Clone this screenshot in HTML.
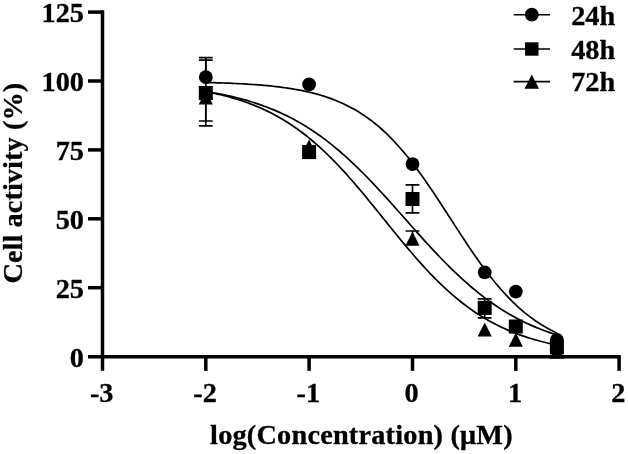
<!DOCTYPE html><html><head><meta charset="utf-8"><title>Cell activity</title><style>html,body{margin:0;padding:0;background:#fff}</style></head><body><svg width="628" height="454" viewBox="0 0 628 454" style="display:block">
<rect width="628" height="454" fill="#fff"/>
<g fill="none" stroke="#000" stroke-width="1.7">
<path d="M205.82,82.47 L208.75,82.54 L211.67,82.62 L214.60,82.71 L217.53,82.80 L220.46,82.89 L223.38,82.99 L226.31,83.10 L229.24,83.22 L232.17,83.34 L235.09,83.48 L238.02,83.62 L240.95,83.77 L243.88,83.93 L246.80,84.10 L249.73,84.29 L252.66,84.48 L255.59,84.69 L258.51,84.91 L261.44,85.15 L264.37,85.41 L267.30,85.68 L270.22,85.96 L273.15,86.27 L276.08,86.60 L279.00,86.95 L281.93,87.32 L284.86,87.72 L287.79,88.14 L290.71,88.59 L293.64,89.07 L296.57,89.58 L299.50,90.12 L302.42,90.70 L305.35,91.32 L308.28,91.97 L311.21,92.66 L314.13,93.40 L317.06,94.19 L319.99,95.02 L322.92,95.90 L325.84,96.84 L328.77,97.84 L331.70,98.89 L334.63,100.01 L337.55,101.19 L340.48,102.44 L343.41,103.76 L346.34,105.16 L349.26,106.64 L352.19,108.20 L355.12,109.85 L358.04,111.58 L360.97,113.41 L363.90,115.33 L366.83,117.35 L369.75,119.47 L372.68,121.69 L375.61,124.02 L378.54,126.46 L381.46,129.01 L384.39,131.67 L387.32,134.45 L390.25,137.34 L393.17,140.35 L396.10,143.47 L399.03,146.71 L401.96,150.07 L404.88,153.53 L407.81,157.11 L410.74,160.79 L413.67,164.58 L416.59,168.47 L419.52,172.45 L422.45,176.52 L425.38,180.68 L428.30,184.91 L431.23,189.22 L434.16,193.58 L437.08,198.00 L440.01,202.46 L442.94,206.95 L445.87,211.47 L448.79,216.01 L451.72,220.55 L454.65,225.09 L457.58,229.62 L460.50,234.12 L463.43,238.58 L466.36,243.00 L469.29,247.38 L472.21,251.69 L475.14,255.93 L478.07,260.10 L481.00,264.18 L483.92,268.18 L486.85,272.08 L489.78,275.88 L492.71,279.58 L495.63,283.17 L498.56,286.65 L501.49,290.02 L504.41,293.27 L507.34,296.41 L510.27,299.43 L513.20,302.34 L516.12,305.13 L519.05,307.81 L521.98,310.37 L524.91,312.83 L527.83,315.17 L530.76,317.41 L533.69,319.54 L536.62,321.58 L539.54,323.51 L542.47,325.35 L545.40,327.09 L548.33,328.75 L551.25,330.32 L554.18,331.81 L557.11,333.22"/>
<path d="M205.82,91.53 L208.75,92.00 L211.67,92.49 L214.60,93.01 L217.53,93.54 L220.46,94.11 L223.38,94.69 L226.31,95.31 L229.24,95.95 L232.17,96.62 L235.09,97.32 L238.02,98.05 L240.95,98.81 L243.88,99.60 L246.80,100.43 L249.73,101.30 L252.66,102.20 L255.59,103.13 L258.51,104.11 L261.44,105.13 L264.37,106.18 L267.30,107.29 L270.22,108.43 L273.15,109.62 L276.08,110.86 L279.00,112.14 L281.93,113.48 L284.86,114.86 L287.79,116.30 L290.71,117.79 L293.64,119.33 L296.57,120.93 L299.50,122.58 L302.42,124.29 L305.35,126.06 L308.28,127.89 L311.21,129.78 L314.13,131.72 L317.06,133.73 L319.99,135.80 L322.92,137.93 L325.84,140.12 L328.77,142.37 L331.70,144.69 L334.63,147.06 L337.55,149.50 L340.48,151.99 L343.41,154.55 L346.34,157.16 L349.26,159.83 L352.19,162.56 L355.12,165.34 L358.04,168.17 L360.97,171.06 L363.90,173.99 L366.83,176.97 L369.75,179.99 L372.68,183.06 L375.61,186.16 L378.54,189.30 L381.46,192.48 L384.39,195.68 L387.32,198.91 L390.25,202.16 L393.17,205.43 L396.10,208.71 L399.03,212.01 L401.96,215.31 L404.88,218.62 L407.81,221.93 L410.74,225.23 L413.67,228.53 L416.59,231.81 L419.52,235.08 L422.45,238.33 L425.38,241.56 L428.30,244.76 L431.23,247.93 L434.16,251.07 L437.08,254.18 L440.01,257.25 L442.94,260.27 L445.87,263.25 L448.79,266.18 L451.72,269.07 L454.65,271.90 L457.58,274.68 L460.50,277.41 L463.43,280.08 L466.36,282.70 L469.29,285.25 L472.21,287.75 L475.14,290.19 L478.07,292.56 L481.00,294.88 L483.92,297.13 L486.85,299.32 L489.78,301.45 L492.71,303.52 L495.63,305.53 L498.56,307.47 L501.49,309.36 L504.41,311.19 L507.34,312.96 L510.27,314.67 L513.20,316.32 L516.12,317.92 L519.05,319.47 L521.98,320.96 L524.91,322.39 L527.83,323.78 L530.76,325.11 L533.69,326.40 L536.62,327.64 L539.54,328.83 L542.47,329.97 L545.40,331.07 L548.33,332.13 L551.25,333.15 L554.18,334.13 L557.11,335.06"/>
<path d="M205.82,91.66 L208.75,92.22 L211.67,92.81 L214.60,93.42 L217.53,94.07 L220.46,94.75 L223.38,95.46 L226.31,96.21 L229.24,96.99 L232.17,97.81 L235.09,98.67 L238.02,99.56 L240.95,100.50 L243.88,101.49 L246.80,102.51 L249.73,103.59 L252.66,104.71 L255.59,105.89 L258.51,107.11 L261.44,108.39 L264.37,109.72 L267.30,111.11 L270.22,112.56 L273.15,114.07 L276.08,115.64 L279.00,117.28 L281.93,118.97 L284.86,120.74 L287.79,122.57 L290.71,124.47 L293.64,126.44 L296.57,128.48 L299.50,130.59 L302.42,132.78 L305.35,135.04 L308.28,137.37 L311.21,139.77 L314.13,142.25 L317.06,144.80 L319.99,147.43 L322.92,150.13 L325.84,152.90 L328.77,155.74 L331.70,158.64 L334.63,161.62 L337.55,164.66 L340.48,167.77 L343.41,170.94 L346.34,174.16 L349.26,177.45 L352.19,180.78 L355.12,184.16 L358.04,187.59 L360.97,191.06 L363.90,194.57 L366.83,198.10 L369.75,201.67 L372.68,205.26 L375.61,208.87 L378.54,212.49 L381.46,216.12 L384.39,219.76 L387.32,223.39 L390.25,227.02 L393.17,230.63 L396.10,234.23 L399.03,237.81 L401.96,241.36 L404.88,244.88 L407.81,248.37 L410.74,251.82 L413.67,255.22 L416.59,258.58 L419.52,261.89 L422.45,265.14 L425.38,268.34 L428.30,271.47 L431.23,274.55 L434.16,277.55 L437.08,280.50 L440.01,283.37 L442.94,286.17 L445.87,288.90 L448.79,291.56 L451.72,294.15 L454.65,296.66 L457.58,299.10 L460.50,301.47 L463.43,303.76 L466.36,305.98 L469.29,308.13 L472.21,310.20 L475.14,312.21 L478.07,314.14 L481.00,316.00 L483.92,317.80 L486.85,319.53 L489.78,321.19 L492.71,322.79 L495.63,324.33 L498.56,325.81 L501.49,327.23 L504.41,328.59 L507.34,329.89 L510.27,331.14 L513.20,332.34 L516.12,333.49 L519.05,334.59 L521.98,335.64 L524.91,336.64 L527.83,337.60 L530.76,338.52 L533.69,339.39 L536.62,340.23 L539.54,341.03 L542.47,341.79 L545.40,342.52 L548.33,343.22 L551.25,343.88 L554.18,344.51 L557.11,345.11"/>
</g>
<g fill="none" stroke="#000" stroke-width="1.7">
<path d="M205.8,81.0 V57.6 M198.9,57.6 h13.8"/>
<path d="M205.8,125.9 V60.1 M198.9,60.1 h13.8 M198.9,125.9 h13.8"/>
<path d="M205.8,121.0 V97.5 M198.9,121.0 h13.8"/>
<path d="M412.5,212.8 V184.9 M405.6,184.9 h13.8 M405.6,212.8 h13.8"/>
<path d="M412.5,240.1 V231.0 M405.6,231.0 h13.8"/>
<path d="M484.7,317.8 V298.8 M477.8,298.8 h13.8 M477.8,317.8 h13.8"/>
</g>
<g fill="#000">
<circle cx="205.8" cy="77.2" r="6.9"/>
<circle cx="309.1" cy="84.3" r="6.9"/>
<circle cx="412.5" cy="164.1" r="6.9"/>
<circle cx="484.7" cy="272.3" r="6.9"/>
<circle cx="515.8" cy="291.6" r="6.9"/>
<circle cx="556.9" cy="339.8" r="6.9"/>
<rect x="198.8" y="86.0" width="14" height="14"/>
<rect x="302.1" y="145.1" width="14" height="14"/>
<rect x="405.5" y="192.0" width="14" height="14"/>
<rect x="477.7" y="300.9" width="14" height="14"/>
<rect x="508.8" y="319.5" width="14" height="14"/>
<rect x="549.9" y="340.4" width="14" height="14"/>
<path d="M205.8,90.5 L212.9,104.5 L198.7,104.5Z"/>
<path d="M309.1,139.6 L316.2,153.6 L302.0,153.6Z"/>
<path d="M412.5,231.8 L419.6,245.8 L405.4,245.8Z"/>
<path d="M484.7,322.6 L491.8,336.6 L477.6,336.6Z"/>
<path d="M515.8,332.8 L522.9,346.8 L508.7,346.8Z"/>
<path d="M556.9,344.7 L564.0,358.7 L549.8,358.7Z"/>
</g>
<g fill="none" stroke="#000" stroke-width="3.5">
<path d="M102.5,10.3 V370.85"/>
<path d="M88,356.65 H620.8"/>
<path d="M88,287.7 H102.5"/>
<path d="M88,218.8 H102.5"/>
<path d="M88,149.9 H102.5"/>
<path d="M88,81.0 H102.5"/>
<path d="M88,12.1 H102.5"/>
<path d="M205.8,356.65 V370.85"/>
<path d="M309.1,356.65 V370.85"/>
<path d="M412.5,356.65 V370.85"/>
<path d="M515.8,356.65 V370.85"/>
<path d="M619.1,356.65 V370.85"/>
</g>
<g font-family="'Liberation Serif', serif" font-weight="bold" fill="#000" stroke="#000" stroke-width="0.3">
<text x="84" y="366.8" font-size="28.3" text-anchor="end">0</text>
<text x="84" y="297.9" font-size="28.3" text-anchor="end">25</text>
<text x="84" y="229.0" font-size="28.3" text-anchor="end">50</text>
<text x="84" y="160.1" font-size="28.3" text-anchor="end">75</text>
<text x="84" y="91.2" font-size="28.3" text-anchor="end">100</text>
<text x="84" y="22.3" font-size="28.3" text-anchor="end">125</text>
<text x="101.7" y="401.6" font-size="28.3" text-anchor="middle">-3</text>
<text x="205.0" y="401.6" font-size="28.3" text-anchor="middle">-2</text>
<text x="308.3" y="401.6" font-size="28.3" text-anchor="middle">-1</text>
<text x="411.7" y="401.6" font-size="28.3" text-anchor="middle">0</text>
<text x="515.0" y="401.6" font-size="28.3" text-anchor="middle">1</text>
<text x="618.3" y="401.6" font-size="28.3" text-anchor="middle">2</text>
<text x="361.4" y="443.6" font-size="28.3" textLength="302.6" lengthAdjust="spacing" text-anchor="middle">log(Concentration) (μM)</text>
<text transform="translate(21.7,183.2) rotate(-90)" font-size="28.3" textLength="200.8" lengthAdjust="spacing" text-anchor="middle">Cell activity (%)</text>
<text x="571.2" y="24.5" font-size="28.3">24h</text>
<text x="571.2" y="58.5" font-size="28.3">48h</text>
<text x="571.2" y="90.9" font-size="28.3">72h</text>
</g>
<g stroke="#000" stroke-width="1.6" fill="none">
<path d="M513.7,14.7 H550.1"/>
<path d="M513.7,49.0 H550.1"/>
<path d="M513.7,81.6 H550.1"/>
</g>
<g fill="#000">
<circle cx="531.8" cy="14.7" r="6.9"/>
<rect x="525.0999999999999" y="42.3" width="13.4" height="13.4"/>
<path d="M531.8,74.6 L539.0,88.8 L524.5999999999999,88.8Z"/>
</g>
</svg></body></html>
